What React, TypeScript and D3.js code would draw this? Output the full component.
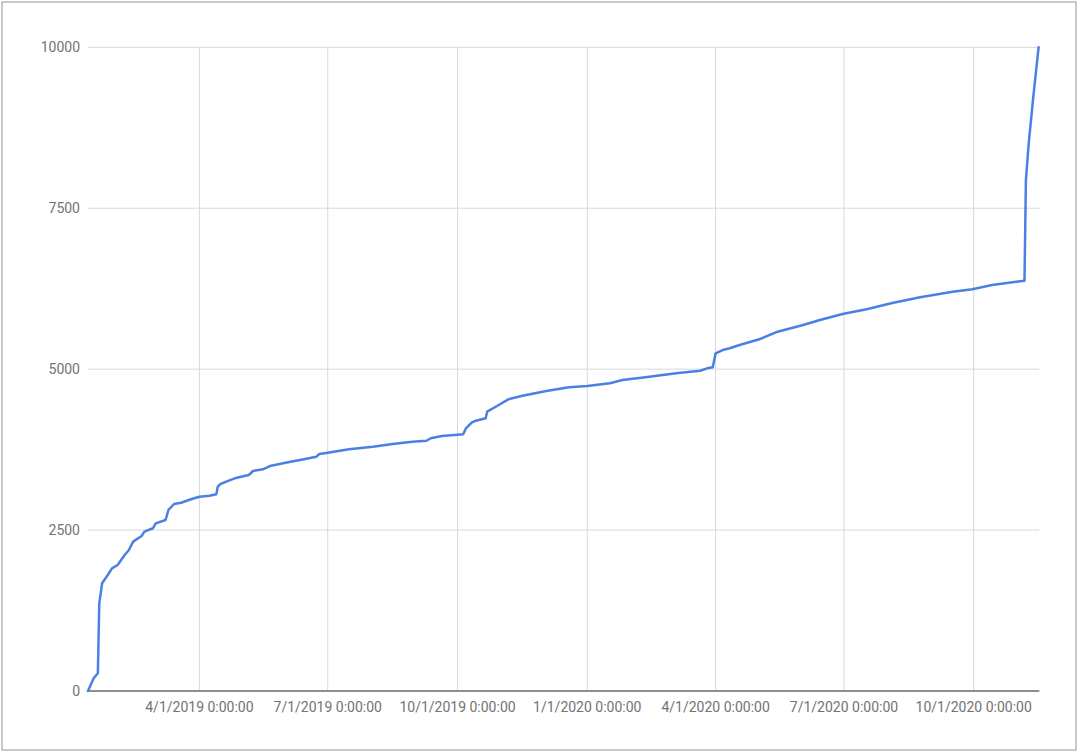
import React from 'react';
import * as d3 from 'd3';

// cumulative count
const dates: string[] = [
  '2019-01-12', '2019-01-16', '2019-01-19', '2019-01-20', '2019-01-22', '2019-01-26',
  '2019-01-29', '2019-02-02', '2019-02-07', '2019-02-10', '2019-02-13', '2019-02-19',
  '2019-02-21', '2019-02-27', '2019-03-01', '2019-03-08', '2019-03-10', '2019-03-14',
  '2019-03-19', '2019-03-26', '2019-04-01', '2019-04-08', '2019-04-13', '2019-04-14',
  '2019-04-16', '2019-04-20', '2019-04-26', '2019-05-06', '2019-05-09', '2019-05-16',
  '2019-05-21', '2019-06-01', '2019-06-14', '2019-06-23', '2019-06-25', '2019-07-01',
  '2019-07-16', '2019-08-02', '2019-08-16', '2019-08-30', '2019-09-09', '2019-09-12',
  '2019-09-20', '2019-10-05', '2019-10-07', '2019-10-11', '2019-10-14', '2019-10-21',
  '2019-10-22', '2019-10-29', '2019-11-06', '2019-11-16', '2019-12-03', '2019-12-19',
  '2020-01-01', '2020-01-17', '2020-01-26', '2020-02-14', '2020-03-04', '2020-03-21',
  '2020-03-26', '2020-03-30', '2020-04-01', '2020-04-06', '2020-04-11', '2020-04-18',
  '2020-05-02', '2020-05-15', '2020-06-02', '2020-06-14', '2020-06-30', '2020-07-17',
  '2020-08-05', '2020-08-24', '2020-09-16', '2020-09-30', '2020-10-14', '2020-11-06',
  '2020-11-07', '2020-11-09', '2020-11-12', '2020-11-16',
];

const counts: number[] = [
  0, 197, 275, 1362, 1673, 1802,
  1906, 1957, 2113, 2190, 2320, 2408,
  2475, 2528, 2605, 2657, 2812, 2905,
  2925, 2978, 3018, 3034, 3056, 3174,
  3216, 3252, 3304, 3356, 3418, 3444,
  3495, 3547, 3599, 3640, 3682, 3702,
  3754, 3795, 3837, 3873, 3888, 3926,
  3961, 3988, 4081, 4168, 4199, 4236,
  4339, 4427, 4531, 4588, 4661, 4718,
  4738, 4780, 4831, 4883, 4935, 4976,
  5013, 5029, 5246, 5297, 5324, 5375,
  5464, 5582, 5686, 5764, 5857, 5930,
  6032, 6116, 6203, 6240, 6307, 6374,
  7938, 8508, 9181, 10000,
];

const yTicks: number[] = [0, 2500, 5000, 7500, 10000];
const xTickDates: string[] = [
  '2019-04-01', '2019-07-01', '2019-10-01', '2020-01-01',
  '2020-04-01', '2020-07-01', '2020-10-01',
];

const parse = (s: string) => {
  const [y, m, d] = s.split('-').map(Number);
  return new Date(y, m - 1, d);
};
const fmt = (d: Date) => `${d.getMonth() + 1}/${d.getDate()}/${d.getFullYear()} 0:00:00`;

const W = 1080;
const H = 753;
const left = 88;
const right = 1039.3;
const top = 47.3;
const bottom = 691;

export default function App() {
  const x = d3.scaleTime()
    .domain([new Date(2019, 0, 12), new Date(2020, 10, 16, 12)])
    .range([left, right]);
  const y = d3.scaleLinear().domain([0, 10000]).range([bottom, top]);

  const pts = dates.map((d, i) => ({ date: parse(d), v: counts[i] }));
  const line = d3.line<{ date: Date; v: number }>()
    .x(d => x(d.date))
    .y(d => y(d.v));

  const font = 'Roboto, "Noto Sans", Arial, sans-serif';

  return (
    <div style={{ position: 'absolute', left: 0, top: 0 }}>
      <svg width={W} height={H} style={{ display: 'block', background: '#fff' }}>
        <rect x={2} y={2} width={1074} height={748} fill="none" stroke="#b8b8b8" strokeWidth={1.5} />

        {/* horizontal grid */}
        {yTicks.map(t => (
          <line key={'h' + t} x1={left} x2={right} y1={y(t)} y2={y(t)} stroke="#d9d9d9" strokeWidth={1} />
        ))}
        {/* vertical grid */}
        {xTickDates.map(t => (
          <line key={'v' + t} x1={x(parse(t))} x2={x(parse(t))} y1={top} y2={bottom} stroke="#d9d9d9" strokeWidth={1} />
        ))}

        {/* baseline */}
        <line x1={left} x2={right} y1={bottom} y2={bottom} stroke="#333" strokeWidth={1.2} />

        {/* y labels */}
        {yTicks.map(t => (
          <text key={'yl' + t} x={80} y={y(t)} dy="0.35em" textAnchor="end"
            fontFamily={font} fontSize={14} fill="#737373">{t}</text>
        ))}
        {/* x labels */}
        {xTickDates.map(t => (
          <text key={'xl' + t} x={x(parse(t))} y={712} textAnchor="middle"
            fontFamily={font} fontSize={14} fill="#737373">{fmt(parse(t))}</text>
        ))}

        <path d={line(pts) || ''} fill="none" stroke="#4a80e4" strokeWidth={2.5}
          strokeLinejoin="round" strokeLinecap="round" />
      </svg>
    </div>
  );
}
